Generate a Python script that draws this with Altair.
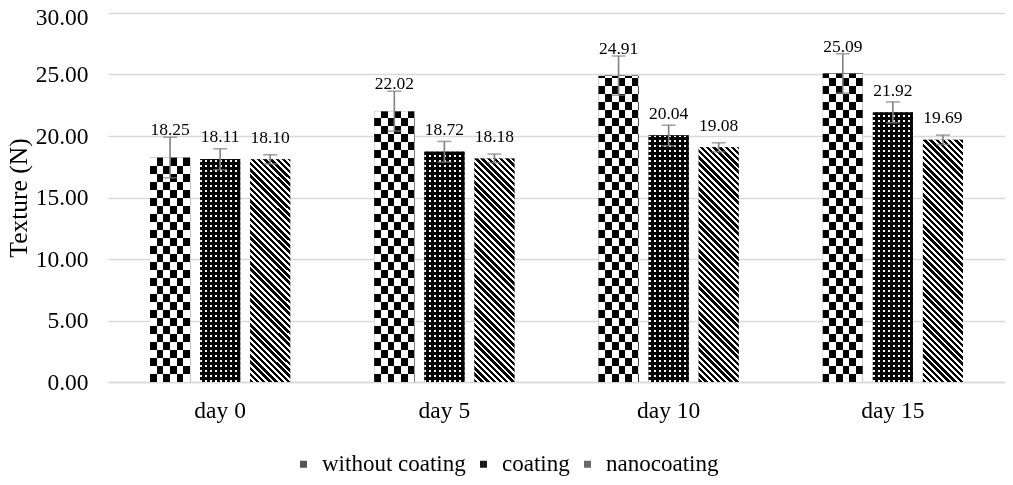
import altair as alt
import pandas as pd

# ---------------- data ----------------
days = ["day 0", "day 5", "day 10", "day 15"]
series = ["without coating", "coating", "nanocoating"]
without_coating = [18.25, 22.02, 24.91, 25.09]
coating = [18.11, 18.72, 20.04, 21.92]
nanocoating = [18.10, 18.18, 19.08, 19.69]
err_without = [1.65, 1.62, 1.60, 1.60]
err_coating = [0.85, 0.84, 0.84, 0.85]
err_nano = [0.37, 0.35, 0.37, 0.38]
y_ticks = [0, 5, 10, 15, 20, 25, 30]

rows = []
for i, d in enumerate(days):
    for s, vals, errs in zip(series, [without_coating, coating, nanocoating],
                             [err_without, err_coating, err_nano]):
        rows.append({"day": d, "series": s, "value": vals[i], "err": errs[i]})
df = pd.DataFrame(rows)

# ---------------- layout / style ----------------
W, H = 897, 369
YMAX = 30
BAR_W = 40
FONT = "Liberation Serif"
GRID = "#d9d9d9"

x_scale = alt.Scale(domain=days, paddingInner=0, paddingOuter=0)
xo_scale = alt.Scale(domain=series, paddingInner=0.2, paddingOuter=0.84)
y_scale = alt.Scale(domain=[0, YMAX], nice=False, zero=True)

x_axis = alt.Axis(title=None, labelFont=FONT, labelFontSize=23.5, labelColor="black",
                  labelAngle=0, ticks=False, domainColor=GRID, domainWidth=1.5,
                  labelPadding=16, grid=False)
y_axis = alt.Axis(values=y_ticks, format=".2f", labelFont=FONT,
                  labelFontSize=23.5, labelColor="black", ticks=False, domain=False,
                  labelPadding=20, gridColor=GRID, gridWidth=1.5,
                  labelOffset={"condition": {"test": "datum.value === 30", "value": 4}, "value": 0},
                  title="Texture (N)", titleFont=FONT, titleFontSize=25.5,
                  titleFontWeight="normal", titleColor="black",
                  titleX=-90, titleY=H / 2, titleBaseline="middle", titleAlign="center")


def X():
    return alt.X("day:N", sort=days, scale=x_scale, axis=x_axis)


def XO():
    return alt.XOffset("series:N", sort=series, scale=xo_scale)


def Y(field="value:Q"):
    return alt.Y(field, scale=y_scale, axis=y_axis)


def stripe_stops(period_frac, on_frac, on, off):
    stops = []
    t = 0.0
    while t < 1.0:
        b = min(t + on_frac * period_frac, 1.0)
        c = min(t + period_frac, 1.0)
        stops += [{"offset": round(t, 5), "color": on},
                  {"offset": round(b, 5), "color": on},
                  {"offset": round(b, 5), "color": off},
                  {"offset": round(c, 5), "color": off}]
        t = c
    return stops


def horiz_stripes(h_px, period, on_frac, on, off):
    # stripes counted from the bar's bottom edge
    return {"gradient": "linear", "x1": 0, "y1": 1, "x2": 0, "y2": 0,
            "stops": stripe_stops(period / h_px, on_frac, on, off)}


def vert_stripes(w_px, period, on_frac, on, off):
    return {"gradient": "linear", "x1": 0, "y1": 0, "x2": 1, "y2": 0,
            "stops": stripe_stops(period / w_px, on_frac, on, off)}


def diag_stripes(w_px, h_px, period, on_frac, on, off):
    t = (w_px + h_px) / (w_px ** 2 + h_px ** 2)
    return {"gradient": "linear", "x1": 0, "y1": 1, "x2": t * w_px, "y2": 1 - t * h_px,
            "stops": stripe_stops(period / (w_px + h_px), on_frac, on, off)}


base = alt.Chart(df)

# base bars (also drive the legend)
bars = base.mark_bar().encode(
    x=X(), xOffset=XO(), y=Y(),
    color=alt.Color("series:N", sort=series,
                    scale=alt.Scale(domain=series, range=["#555555", "#1a1a1a", "#6a6a6a"]),
                    legend=alt.Legend(orient="none", direction="horizontal", title=None,
                                      legendX=184, legendY=439.5, symbolType="square",
                                      symbolSize=49, symbolStrokeWidth=0,
                                      labelFont=FONT, labelFontSize=23, labelColor="black",
                                      labelOffset=7, columnPadding=6, padding=0))
)

layers = [bars]

# per-bar pattern layers (row stripes / diagonal stripes)
for _, r in df.iterrows():
    h_px = r["value"] / YMAX * H
    if r["series"] == "without coating":
        fill = horiz_stripes(h_px, 16.0, 0.5, "black", "white")
    elif r["series"] == "coating":
        fill = horiz_stripes(h_px, 5.0, 0.4, "white", "black")
    else:
        fill = diag_stripes(BAR_W, h_px, 6.2, 0.55, "black", "white")
    layers.append(
        base.transform_filter(
            f"datum.day === '{r['day']}' && datum.series === '{r['series']}'"
        ).mark_bar(color=fill).encode(x=X(), xOffset=XO(), y=Y())
    )

# column overlays: checkerboard (difference) and dot grid (multiply)
layers.append(
    base.transform_filter("datum.series === 'without coating'")
    .mark_bar(color=vert_stripes(BAR_W, 13.3, 0.5, "black", "white"), blend="difference")
    .encode(x=X(), xOffset=XO(), y=Y())
)
layers.append(
    base.transform_filter("datum.series === 'coating'")
    .mark_bar(color=vert_stripes(BAR_W, 5.0, 0.4, "white", "black"), blend="multiply")
    .encode(x=X(), xOffset=XO(), y=Y())
)

# error bars
err = base.transform_calculate(
    lo="datum.value - datum.err", hi="datum.value + datum.err"
)
layers.append(err.mark_rule(color="#808080", strokeWidth=1.6).encode(
    x=X(), xOffset=XO(), y=Y("lo:Q"), y2="hi:Q"))
layers.append(err.mark_tick(color="#808080", thickness=1.6, size=14, orient="horizontal").encode(
    x=X(), xOffset=XO(), y=Y("lo:Q")))
layers.append(err.mark_tick(color="#808080", thickness=1.6, size=14, orient="horizontal").encode(
    x=X(), xOffset=XO(), y=Y("hi:Q")))

# value labels
layers.append(
    base.transform_calculate(ly="max(datum.value + datum.err, datum.value + 1.2)")
    .mark_text(font=FONT, fontSize=17.5, color="black", baseline="alphabetic", dy=-2)
    .encode(x=X(), xOffset=XO(), y=Y("ly:Q"), text=alt.Text("value:Q", format=".2f"))
)

chart = alt.layer(*layers).properties(
    width=W, height=H,
    autosize=alt.AutoSizeParams(type="none"),
    padding={"left": 100, "top": 5, "right": 0, "bottom": 95},
    background="white",
).configure_view(stroke=None)

chart.save("out.html", embed_options={"renderer": "svg", "actions": False})
